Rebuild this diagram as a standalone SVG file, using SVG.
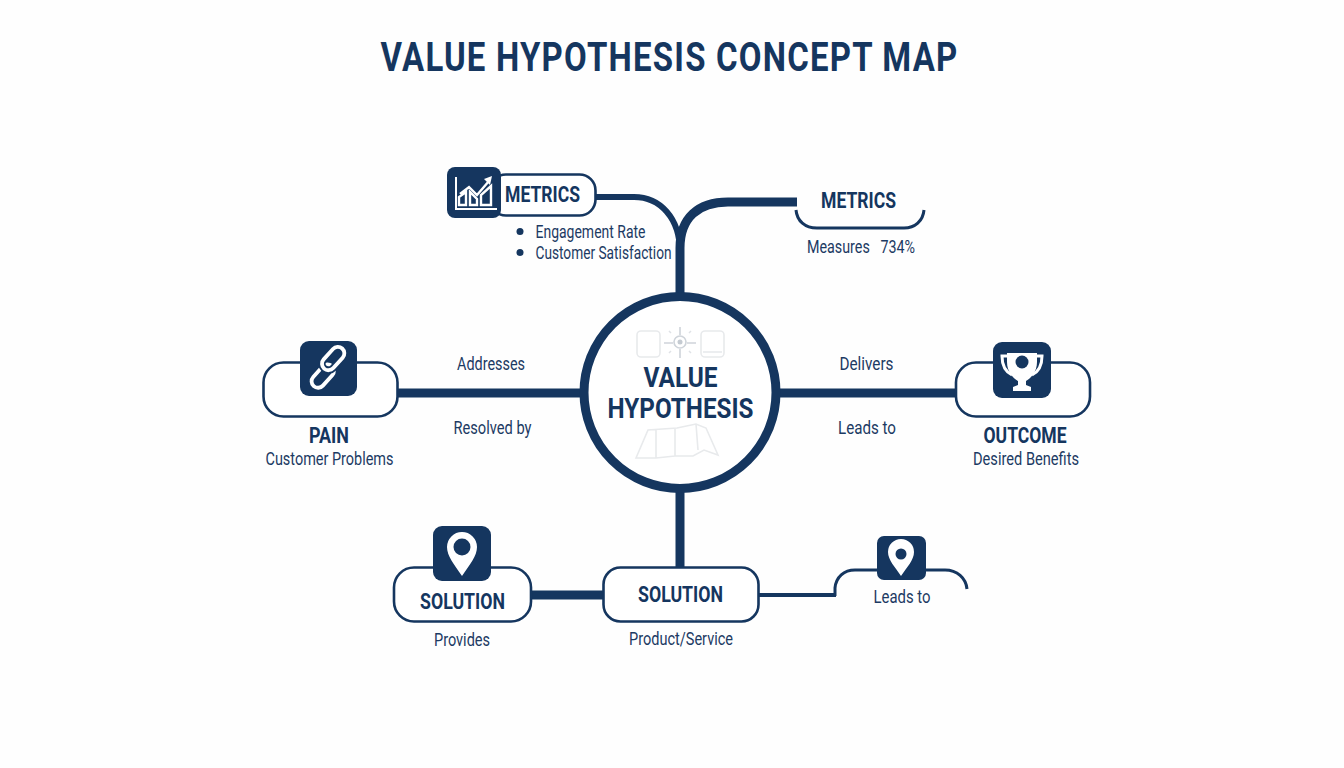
<svg xmlns="http://www.w3.org/2000/svg" width="1344" height="768" viewBox="0 0 1344 768">
<style>
text{font-family:"Roboto","Liberation Sans",sans-serif;fill:#1c3a63;text-anchor:middle}
.b{font-weight:700;fill:#15365f}
.s{font-size:18px}
.h{font-size:22px}
.box{fill:#fff;stroke:#15365f;stroke-width:2.600}
.icon{fill:#15365f}
.w{fill:#fff}
.wl{fill:none;stroke:#fff}
.line{fill:none;stroke:#15365f}
.ghost{fill:none;stroke:#e8eaec;stroke-width:1.600}
.ghost2{fill:none;stroke:#cfd4da;stroke-width:1.600}
</style>
<rect width="1344" height="768" fill="#fefefe"/>
<text class="b" x="669.500" y="71" font-size="40" letter-spacing="1.500" textLength="578" lengthAdjust="spacingAndGlyphs">VALUE HYPOTHESIS CONCEPT MAP</text>
<g id="connectors">
<path class="line" stroke-width="9" d="M680 296V248C680 218 698 202 728 202H797"/>
<path class="line" stroke-width="6" d="M596 197H634C660 197 680 218 680 252"/>
<path class="line" stroke-width="9" d="M397 393H582M778 393H957M680 490V568M531 595H604"/>
<path class="line" stroke-width="4" d="M758 595H836"/>
</g>
<g id="center">
<circle cx="680" cy="392.500" r="96" fill="#fff" stroke="#15365f" stroke-width="9"/>
<rect class="ghost" x="637" y="331" width="23" height="26" rx="4"/>
<rect class="ghost" x="701" y="331" width="23" height="26" rx="4"/>
<path class="ghost" d="M703 352H722"/>
<circle class="ghost2" cx="680" cy="342" r="6"/>
<circle cx="680" cy="342" r="2.500" fill="#c5cbd2"/>
<path class="ghost2" d="M664 343H673M687 343H696M680 327V335M680 349V358"/>
<path d="M669 331 671 333M691 331 689 333M669 353 671 351M691 353 689 351" fill="none" stroke="#dfe2e6" stroke-width="1.500"/>
<path class="ghost" d="M636 458 648 430 677 428 696 424 706 428 718 455 704 450 693 456 675 456 656 458ZM656 430V458M675 428V456M696 424 698 450"/>
<text class="b" x="680.500" y="387" font-size="28" textLength="74" lengthAdjust="spacingAndGlyphs">VALUE</text>
<text class="b" x="680.500" y="418" font-size="28" textLength="146" lengthAdjust="spacingAndGlyphs">HYPOTHESIS</text>
</g>
<g id="metrics-left">
<rect class="box" x="490" y="174.500" width="105.500" height="41" rx="16"/>
<rect class="icon" x="447" y="167" width="54" height="51" rx="8"/>
<path class="wl" stroke-width="2" d="M456 177V209H497"/>
<path class="wl" stroke-width="2.400" d="M460 194 469 187 477 195 489 181M459 205V197L466 192V205ZM470 205V192L477 199V205ZM481 205V195L491 186V205Z"/>
<path class="w" d="M484 179 492 176 490 185Z"/>
<text class="b h" x="542.500" y="202" textLength="75" lengthAdjust="spacingAndGlyphs">METRICS</text>
<circle class="icon" cx="520" cy="231.500" r="3.500"/>
<circle class="icon" cx="520" cy="252.500" r="3.500"/>
<text class="s" x="590.500" y="237.500" textLength="110" lengthAdjust="spacingAndGlyphs">Engagement Rate</text>
<text class="s" x="603.500" y="258.500" textLength="136" lengthAdjust="spacingAndGlyphs">Customer Satisfaction</text>
</g>
<g id="metrics-right">
<path class="line" stroke-width="3" d="M796 210C797 221 805 228 817 228H904C915 228 923 221 924 210"/>
<text class="b h" x="858.500" y="208" textLength="75" lengthAdjust="spacingAndGlyphs">METRICS</text>
<text class="s" x="861" y="253" textLength="108" lengthAdjust="spacingAndGlyphs" xml:space="preserve">Measures   734%</text>
</g>
<g id="pain">
<rect class="box" x="263.500" y="362.500" width="134" height="54" rx="20"/>
<rect class="icon" x="300" y="341" width="57" height="55" rx="9"/>
<g transform="rotate(-48 328 368)">
<rect class="wl" stroke-width="3.800" x="305" y="363" width="27" height="13" rx="6.500"/>
<rect fill="none" stroke="#15365f" stroke-width="7.500" x="325" y="359" width="27" height="13" rx="6.500"/>
<rect class="wl" stroke-width="3.800" x="325" y="359" width="27" height="13" rx="6.500"/>
</g>
<text class="b h" x="329" y="443" textLength="40" lengthAdjust="spacingAndGlyphs">PAIN</text>
<text class="s" x="329.500" y="465" textLength="128" lengthAdjust="spacingAndGlyphs">Customer Problems</text>
</g>
<g id="outcome">
<rect class="box" x="956" y="362.500" width="134" height="54" rx="20"/>
<rect class="icon" x="993" y="342" width="58" height="56" rx="9"/>
<path class="w" d="M1007 353H1037V362C1037 372 1031 378 1026 381V385L1031 387V391H1013V387L1018 385V381C1013 378 1007 372 1007 362Z"/>
<path class="wl" stroke-width="3" d="M1008 356H1002C1002 366 1006 372 1012 375M1036 356H1042C1042 366 1038 372 1032 375"/>
<circle class="icon" cx="1022" cy="362" r="6.500"/>
<text class="b h" x="1025" y="443" textLength="83" lengthAdjust="spacingAndGlyphs">OUTCOME</text>
<text class="s" x="1026" y="465" textLength="106" lengthAdjust="spacingAndGlyphs">Desired Benefits</text>
</g>
<g id="solution-left">
<rect class="box" x="394" y="567.500" width="137" height="54" rx="20"/>
<rect class="icon" x="433" y="526" width="58" height="55" rx="9"/>
<path class="w" d="M462 576C454 564 447 556 447 547A15 15 0 0 1 477 547C477 556 470 564 462 576Z"/>
<circle class="icon" cx="462" cy="547" r="8.500"/>
<text class="b h" x="462.500" y="609" textLength="85" lengthAdjust="spacingAndGlyphs">SOLUTION</text>
<text class="s" x="462" y="645.500" textLength="56" lengthAdjust="spacingAndGlyphs">Provides</text>
</g>
<g id="solution-center">
<rect class="box" x="603.500" y="567.500" width="155" height="54" rx="17"/>
<text class="b h" x="680.500" y="602" textLength="85" lengthAdjust="spacingAndGlyphs">SOLUTION</text>
<text class="s" x="681" y="644.500" textLength="104" lengthAdjust="spacingAndGlyphs">Product/Service</text>
</g>
<g id="leads-to">
<path class="line" stroke-width="3" d="M835 596V588C836 577 844 570 855 570H945C957 570 966 578 967 589"/>
<rect class="icon" x="877" y="536" width="49" height="44" rx="7"/>
<path class="w" d="M901 576C895 567 888 560 888 552A13 13 0 0 1 914 552C914 560 907 567 901 576Z"/>
<circle class="icon" cx="901" cy="554" r="5.500"/>
<text class="s" x="902" y="602.500" textLength="57" lengthAdjust="spacingAndGlyphs">Leads to</text>
</g>
<g id="edge-labels">
<text class="s" x="491" y="370" textLength="68" lengthAdjust="spacingAndGlyphs">Addresses</text>
<text class="s" x="492.500" y="433.500" textLength="78" lengthAdjust="spacingAndGlyphs">Resolved by</text>
<text class="s" x="866.500" y="370" textLength="54" lengthAdjust="spacingAndGlyphs">Delivers</text>
<text class="s" x="867" y="433.500" textLength="58" lengthAdjust="spacingAndGlyphs">Leads to</text>
</g>
</svg>
